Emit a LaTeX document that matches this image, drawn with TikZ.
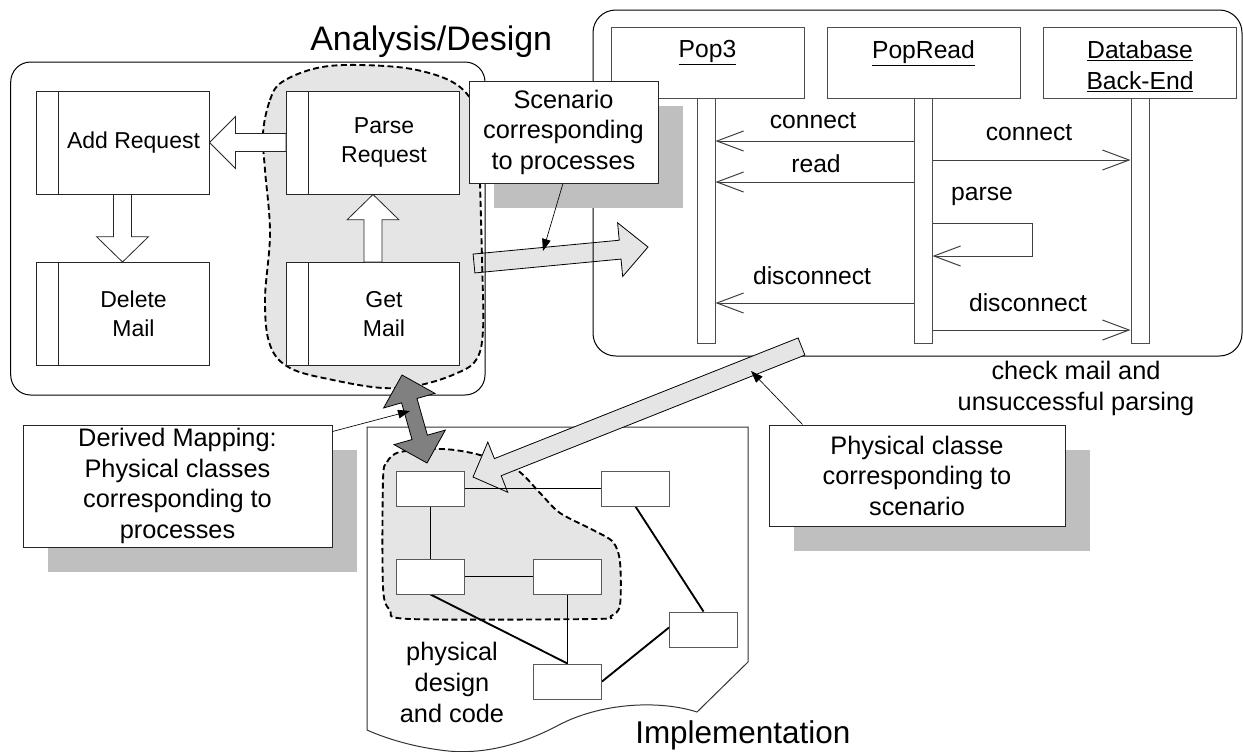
\documentclass[tikz,border=0pt]{standalone}
\usepackage{fontspec}
\setmainfont{Liberation Sans}
\usetikzlibrary{calc,arrows.meta,shadows}

\definecolor{blobgray}{gray}{0.9}
\definecolor{shadowgray}{gray}{0.75}
\definecolor{heavygray}{gray}{0.5}

% block arrow: style, tail, tip, shaft half width, head half width, head length
\newcommand\blockarrow[6]{%
  \coordinate (ba-h) at ($#3!#6!#2$);
  \draw[#1] ($#2!#4!90:#3$) -- ($(ba-h)!#4!90:#3$) -- ($(ba-h)!#5!90:#3$) -- #3
    -- ($(ba-h)!#5!-90:#3$) -- ($(ba-h)!#4!-90:#3$) -- ($#2!#4!-90:#3$) -- cycle;}

% two-headed block arrow: style, end a, end b, shaft half width, head half width, head length
\newcommand\doublearrow[6]{%
  \coordinate (da-a) at ($#2!#6!#3$);
  \coordinate (da-b) at ($#3!#6!#2$);
  \draw[#1] #2 -- ($(da-a)!#5!90:#3$) -- ($(da-a)!#4!90:#3$) -- ($(da-b)!#4!-90:#2$)
    -- ($(da-b)!#5!-90:#2$) -- #3 -- ($(da-b)!#5!90:#2$) -- ($(da-b)!#4!90:#2$)
    -- ($(da-a)!#4!-90:#3$) -- ($(da-a)!#5!-90:#3$) -- cycle;}

\begin{document}
\begin{tikzpicture}[x=0.75pt,y=-0.75pt,
  frame/.style={draw=black, line width=0.75pt, rounded corners=15pt},
  blobline/.style={draw=black, line width=1.4pt, dash pattern=on 4.5pt off 2.5pt},
  procbox/.style={draw=black!85, fill=white, line width=0.75pt,
    minimum width=129.75pt, minimum height=77.25pt, inner sep=0pt,
    path picture={\draw[black!85, line width=0.75pt]
      ([xshift=16.5pt]path picture bounding box.north west) --
      ([xshift=16.5pt]path picture bounding box.south west);}},
  proclabel/.style={anchor=center, xshift=8.25pt, align=center, inner sep=0pt,
    font=\fontsize{17.25}{21.5}\selectfont},
  hollowarrow/.style={draw=black!85, fill=white, line width=0.6pt, line join=miter},
  callout/.style={draw=black!85, fill=white, line width=0.75pt, align=center,
    inner sep=0pt, font=\fontsize{19}{22.9}\selectfont,
    drop shadow={shadow xshift=19pt, shadow yshift=-18.75pt, fill=shadowgray, opacity=1}},
  hdr/.style={draw=black!70, fill=white, line width=0.75pt, anchor=north,
    minimum width=144.75pt, minimum height=53.25pt, inner sep=0pt},
  hdrtext/.style={anchor=north, yshift=-9.75pt, align=center, inner sep=0pt,
    font=\fontsize{18.5}{23.25}\selectfont},
  lifeline/.style={draw=black!70, fill=white, line width=0.75pt, anchor=north,
    minimum width=13.5pt, minimum height=183.75pt, inner sep=0pt},
  msg/.style={draw=black!75, line width=0.75pt, -{Straight Barb[length=20pt,width=15pt]}},
  msglabel/.style={inner sep=0pt, font=\fontsize{18.5}{22}\selectfont},
  cls/.style={draw=black!65, fill=white, line width=0.75pt,
    minimum width=51pt, minimum height=26.25pt, inner sep=0pt},
  link/.style={draw=black, line width=1.4pt},
  ptr/.style={draw=black, line width=0.5pt, -{Triangle[length=9pt,width=6.5pt]}},
  plain/.style={inner sep=0pt, align=center, font=\fontsize{19}{23.25}\selectfont},
  title/.style={inner sep=0pt, anchor=base west}
]
\useasboundingbox (0,0) rectangle (1243,751);
\fill[white] (0,0) rectangle (1243,751);

% ---------- implementation sheet ----------
\draw[draw=black!80, fill=white, line width=0.75pt]
  (367,427) -- (748,427) -- (748,662) -- (697,712)
  .. controls (660,700) and (600,702) .. (555,727)
  .. controls (520,745) and (480,756) .. (440,750)
  .. controls (410,746) and (385,738) .. (367,730) -- cycle;

% ---------- shaded groupings ----------
\path[save path=\leftblob] plot[smooth cycle, tension=0.6] coordinates {
  (263,133) (270,100) (282,82) (317,68) (360,65) (417,70) (460,87) (478,120)
  (480,183) (482,260) (483,330) (476,360) (455,374) (420,385) (383,388)
  (333,380) (290,368) (270,345) (265,300) (270,233) (265,170)};
\path[save path=\implblob] plot[smooth cycle, tension=0.5] coordinates {
  (383,480) (387,462) (400,452) (443,449) (480,455) (517,470) (540,493)
  (560,513) (593,530) (613,542) (620,562) (620,605) (611,616) (593,619)
  (410,619) (390,610) (383,587)};
\fill[blobgray, use path=\leftblob];
\fill[blobgray, use path=\implblob];

% process-to-scenario arrow
\coordinate (sa-tail) at (474,263.5);
\coordinate (sa-tip) at (648,247);
\blockarrow{draw=black, fill=blobgray, line width=0.6pt, line join=miter}{(sa-tail)}{(sa-tip)}{7.1pt}{20.25pt}{21pt}

\draw[blobline, use path=\leftblob];
\draw[blobline, use path=\implblob];

% ---------- frames ----------
\draw[frame] (10.7,62) rectangle (485,395);
\draw[frame, rounded corners=17pt] (593,10) rectangle (1242,356);

\node[title, font=\fontsize{25.5}{30}\selectfont] (t-ad) at (310,50) {Analysis/Design};
\node[title, font=\fontsize{23.6}{28}\selectfont] (t-impl) at (635,743) {Implementation};

% ---------- processes ----------
\node[procbox, label={[proclabel]center:Add Request}] (add) at (122.5,142.5) {};
\node[procbox, label={[proclabel]center:Delete\\Mail}] (del) at (122.5,314) {};
\node[procbox, label={[proclabel]center:Parse\\Request}] (parse) at (373,142.5) {};
\node[procbox, label={[proclabel]center:Get\\Mail}] (get) at (373,314) {};

\blockarrow{hollowarrow}{(parse.west)}{(add.east)}{6.75pt}{19.5pt}{19.5pt}
\blockarrow{hollowarrow}{(add.south)}{(del.north)}{6.75pt}{19.5pt}{19pt}
\blockarrow{hollowarrow}{(get.north)}{(parse.south)}{6.75pt}{19.5pt}{19pt}

% ---------- scenario ----------
\node[hdr, label={[hdrtext]north:\underline{Pop3}}] (h1) at (707.5,27) {};
\node[hdr, label={[hdrtext]north:\underline{PopRead}}] (h2) at (923.5,27) {};
\node[hdr, label={[hdrtext]north:\underline{Database}\\\underline{Back-End}}] (h3) at (1140,27) {};

\node[lifeline] (l1) at (706,98) {};
\node[lifeline] (l2) at (923,98) {};
\node[lifeline] (l3) at (1140,98) {};

\coordinate (y-connA) at (0,141);
\coordinate (y-connB) at (0,160);
\coordinate (y-read) at (0,182);
\coordinate (y-parse1) at (0,223);
\coordinate (y-parse2) at (0,256);
\coordinate (y-discA) at (0,303);
\coordinate (y-discB) at (0,330);

\draw[msg] (l2.west |- y-connA) -- (l1.east |- y-connA);
\draw[msg] (l2.west |- y-read) -- (l1.east |- y-read);
\draw[msg] (l2.east |- y-connB) -- (l3.west |- y-connB);
\draw[msg] (l2.east |- y-parse1) -- ++(100,0) |- (l2.east |- y-parse2);
\draw[msg] (l2.west |- y-discA) -- (l1.east |- y-discA);
\draw[msg] (l2.east |- y-discB) -- (l3.west |- y-discB);

\node[msglabel] (lb1) at (813,121) {connect};
\node[msglabel] (lb2) at (816,164) {read};
\node[msglabel] (lb3) at (1029,133) {connect};
\node[msglabel] (lb4) at (982,196) {parse};
\node[msglabel] (lb5) at (812,276) {disconnect};
\node[msglabel] (lb6) at (1028,303) {disconnect};

\node[plain] (cm) at (1076,388.5) {check mail and\\unsuccessful parsing};

% ---------- notes ----------
\node[callout, minimum width=141.75pt, minimum height=76.5pt] (sc) at (563.5,132)
  {Scenario\\corresponding\\to processes};
\node[callout, minimum width=231.75pt, minimum height=91.5pt] (dm) at (177.5,486)
  {Derived Mapping:\\Physical classes\\corresponding to\\processes};
\node[callout, minimum width=222pt, minimum height=75.75pt] (pc) at (917,475.5)
  {Physical classe\\corresponding to\\scenario};

% scenario-to-classes arrow
\coordinate (la-tail) at (801.5,346.5);
\coordinate (la-tip) at (473,477);
\blockarrow{draw=black, fill=blobgray, line width=0.6pt, line join=miter}{(la-tail)}{(la-tip)}{6.9pt}{20.25pt}{20pt}

% ---------- physical classes ----------
\node[cls] (cA) at (430.5,488.5) {};
\node[cls] (cB) at (635.5,488.5) {};
\node[cls] (cC) at (430.5,576.5) {};
\node[cls] (cD) at (567.5,576.5) {};
\node[cls] (cE) at (703.5,629.5) {};
\node[cls] (cF) at (567.5,681.5) {};

\draw[link] (cA.east) -- (cB.west);
\draw[link] (cA.south) -- (cC.north);
\draw[link] (cC.east) -- (cD.west);
\draw[link] (cC.south) -- (cF.north);
\draw[link] (cD.south) -- (cF.north);
\draw[link] (cB.south) -- (cE.north);
\draw[link] (cF.east) -- ([yshift=1.5pt]cE.west);
\foreach \n in {cA,cB,cC,cD,cE,cF} \node[cls] at (\n) {};

\node[plain] (pdc) at (452,682) {physical\\design\\and code};

% derived mapping arrow
\coordinate (dm-top) at (402,375);
\coordinate (dm-bot) at (427,463);
\doublearrow{draw=black, fill=heavygray, line width=0.6pt, line join=miter}{(dm-top)}{(dm-bot)}{6pt}{20pt}{20pt}

% ---------- note pointers ----------
\coordinate (p-sc) at (543,251);
\coordinate (p-dm) at (410,411);
\coordinate (p-pc) at (751,371);
\draw[ptr] ([xshift=-0.4pt]sc.south) -- (p-sc);
\draw[ptr] ([yshift=-5.25pt]dm.north east) -- (p-dm);
\draw[ptr] ([xshift=25.5pt]pc.north west) -- (p-pc);
\end{tikzpicture}
\end{document}
